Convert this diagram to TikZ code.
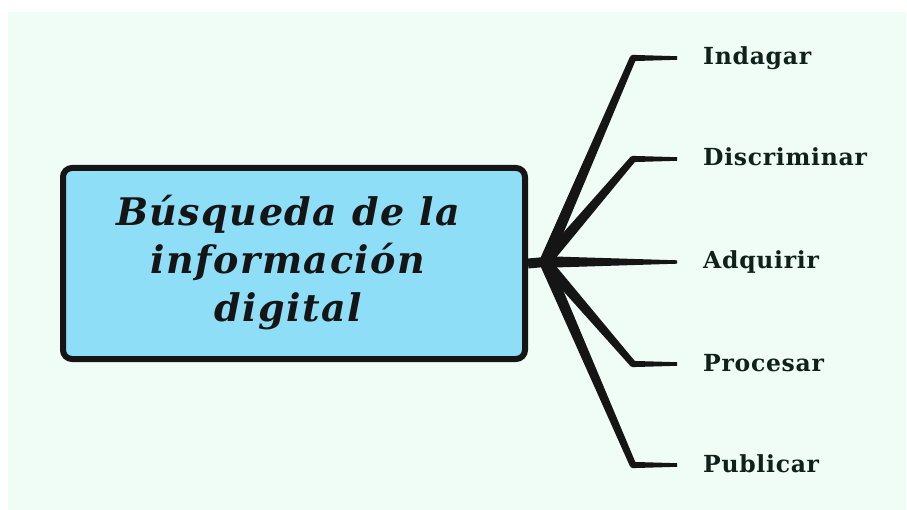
\documentclass[tikz,border=0pt]{standalone}
\usepackage{fontspec}
\setmainfont{DejaVu Serif}
\usetikzlibrary{calc}
\definecolor{bgmint}{HTML}{F0FDF7}
\definecolor{boxblue}{HTML}{8EDEF8}
\definecolor{ink}{HTML}{151515}
\definecolor{labelink}{HTML}{10201A}
\tikzset{
  mainbox/.style={draw=ink, line width=6pt, fill=boxblue, rounded corners=9pt,
    minimum width=462pt, minimum height=191pt, inner sep=0pt},
  titletext/.style={align=center, text=ink,
    font=\fontsize{38}{48}\selectfont\bfseries\itshape\addfontfeature{LetterSpace=4}},
  leaf/.style={anchor=base west, inner sep=0pt, text=labelink,
    font=\fontsize{23.5}{28}\selectfont\bfseries\addfontfeature{LetterSpace=3}},
  stem/.style={draw=ink, line width=10pt},
}
\newcommand{\taper}[4]{% from #1 (half-width #3) to #2 (half-width #4)
  \fill[ink] ($(#1)!#3!90:(#2)$) -- ($(#2)!#4!-90:(#1)$) -- ($(#2)!#4!90:(#1)$) -- ($(#1)!#3!-90:(#2)$) -- cycle;}
\newcommand{\elbowbranch}[3]{% root, elbow, end
  \taper{#1}{#2}{5.8pt}{3.3pt}
  \fill[ink] (#2) circle[radius=3.2pt];
  \taper{#2}{#3}{3.1pt}{1.8pt}}
\begin{document}
\begin{tikzpicture}[x=1pt,y=-1pt]
\useasboundingbox (0,0) rectangle (907,510);
\fill[bgmint] (8,12) rectangle (906,510);

\node[mainbox] (main) at (294,263.5) {};
\node[titletext] (title) at (288,263) {Búsqueda de la\\información\\digital};

\coordinate (root) at (545,262);
\coordinate (e1) at (633,58);
\coordinate (e2) at (633,159);
\coordinate (e4) at (633,364);
\coordinate (e5) at (633,465);
\coordinate (t1) at (677,58);
\coordinate (t2) at (677,159);
\coordinate (t3) at (677,262);
\coordinate (t4) at (677,364);
\coordinate (t5) at (677,465);

\draw[stem] (main.east) -- (root);

\elbowbranch{root}{e1}{t1}
\elbowbranch{root}{e2}{t2}
\taper{root}{t3}{5.8pt}{1.7pt}
\elbowbranch{root}{e4}{t4}
\elbowbranch{root}{e5}{t5}

\node[leaf] (l1) at (703,65) {Indagar};
\node[leaf] (l2) at (703,166) {Discriminar};
\node[leaf] (l3) at (703,269) {Adquirir};
\node[leaf] (l4) at (703,371) {Procesar};
\node[leaf] (l5) at (703,472) {Publicar};
\end{tikzpicture}
\end{document}
